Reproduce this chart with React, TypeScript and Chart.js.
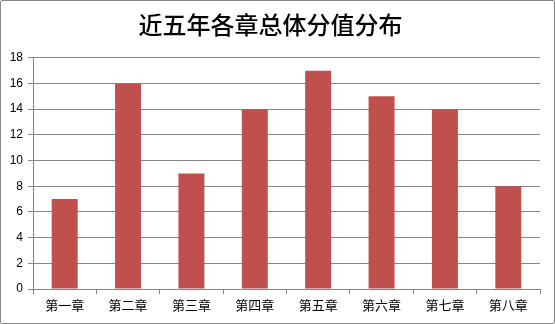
import React, { useEffect, useRef } from "react";
import { Chart, registerables } from "chart.js";

Chart.register(...registerables);

const titleText = "近五年各章总体分值分布";
const categories = ["第一章", "第二章", "第三章", "第四章", "第五章", "第六章", "第七章", "第八章"];
const values = [7, 16, 9, 14, 17, 15, 14, 8];
const yMin = 0;
const yMax = 18;
const yStep = 2;

export default function App() {
  const ref = useRef<HTMLCanvasElement | null>(null);

  useEffect(() => {
    document.body.style.margin = "0";
    if (!ref.current) return;
    const gridColor = "#868686";
    const chart = new Chart(ref.current, {
      type: "bar",
      data: {
        labels: categories,
        datasets: [
          {
            data: values,
            backgroundColor: "#C0504D",
            borderWidth: 0,
            barPercentage: 0.41,
            categoryPercentage: 1,
          },
        ],
      },
      options: {
        animation: false,
        responsive: false,
        maintainAspectRatio: false,
        layout: { padding: { left: 0, right: 14, top: 0, bottom: 0 } },
        plugins: {
          legend: { display: false },
          tooltip: { enabled: false },
          title: {
            display: true,
            text: titleText,
            color: "#000",
            font: { family: "'Noto Sans CJK SC', sans-serif", size: 24, weight: "500" },
            padding: { top: 9, bottom: 19 },
          },
        },
        scales: {
          x: {
            offset: true,
            grid: {
              display: true,
              drawOnChartArea: false,
              drawTicks: true,
              tickLength: 5,
              color: gridColor,
              offset: true,
            },
            border: { display: true, color: gridColor },
            ticks: {
              color: "#000",
              padding: 3,
              font: { family: "'Noto Sans CJK SC', sans-serif", size: 13 },
              maxRotation: 0,
            },
            afterFit: (s: any) => {
              s.height = 34;
            },
          },
          y: {
            min: yMin,
            max: yMax,
            ticks: {
              stepSize: yStep,
              color: "#000",
              padding: 5,
              font: { family: "'Liberation Sans', sans-serif", size: 12 },
            },
            grid: { color: gridColor, tickLength: 5, drawTicks: true },
            border: { display: true, color: gridColor },
            afterFit: (s: any) => {
              s.width = 32;
            },
          },
        },
      },
    });
    return () => chart.destroy();
  }, []);

  return (
    <div
      style={{
        width: 555,
        height: 324,
        boxSizing: "border-box",
        border: "1px solid #878787",
        borderRadius: 2,
        background: "#fff",
        position: "relative",
      }}
    >
      <canvas ref={ref} width={553} height={322} style={{ display: "block" }} />
    </div>
  );
}
